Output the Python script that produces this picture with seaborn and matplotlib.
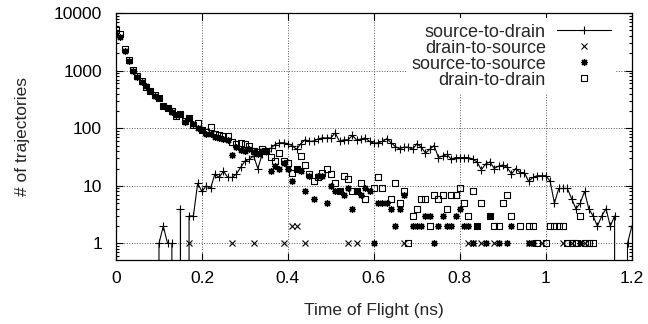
import numpy as np
import pandas as pd
import seaborn as sns
import matplotlib.pyplot as plt
from matplotlib.path import Path

# time bins every 0.01 ns, 0 .. 1.2 ns
time_ns = np.round(np.arange(121) * 0.01, 2)

# counts per bin (0 = no trajectory in that bin)
source_to_drain = [
    0, 0, 0, 0, 0, 0, 0, 0, 0, 0,
    1, 2, 1, 1, 0, 4, 0, 3, 3, 11,
    8, 10, 9, 16, 14, 18, 14, 14, 16, 21,
    27, 29, 33, 20, 35, 40, 45, 52, 56, 56,
    54, 50, 43, 54, 63, 59, 60, 65, 68, 68,
    68, 83, 59, 63, 63, 75, 62, 65, 68, 59,
    55, 56, 59, 66, 56, 48, 44, 47, 47, 43,
    54, 47, 37, 43, 50, 31, 33, 35, 29, 31,
    31, 31, 31, 29, 26, 19, 24, 26, 20, 22,
    23, 21, 16, 20, 17, 17, 12, 14, 15, 15,
    15, 12, 5, 9, 9, 9, 6, 4, 5, 8,
    4, 3, 2, 3, 4, 2, 3, 0, 0, 1,
    2]

drain_to_source = [
    0, 0, 0, 0, 0, 0, 0, 0, 0, 0,
    0, 0, 0, 0, 0, 0, 0, 1, 0, 0,
    0, 0, 0, 0, 0, 0, 0, 1, 0, 0,
    0, 0, 1, 0, 0, 0, 0, 0, 0, 1,
    0, 2, 2, 0, 1, 0, 0, 0, 0, 0,
    0, 0, 0, 0, 1, 0, 1, 0, 0, 0,
    0, 0, 0, 0, 0, 0, 0, 1, 0, 0,
    0, 0, 0, 0, 0, 0, 0, 0, 0, 0,
    0, 0, 1, 1, 0, 1, 0, 0, 1, 0,
    0, 0, 0, 0, 0, 0, 1, 0, 0, 1,
    0, 0, 0, 0, 1, 0, 1, 0, 0, 1,
    0, 0, 0, 0, 0, 0, 0, 0, 0, 0,
    0]

source_to_source = [
    4200, 3900, 2200, 1450, 1000, 780, 640, 530, 440, 360,
    340, 240, 220, 195, 170, 180, 130, 148, 118, 100,
    92, 80, 78, 70, 68, 66, 62, 34, 48, 42,
    40, 44, 38, 36, 40, 40, 18, 22, 20, 25,
    20, 12, 20, 18, 8, 15, 6, 15, 15, 5,
    10, 8, 8, 7, 9, 4, 8, 7, 9, 8,
    1, 5, 5, 5, 4, 2, 4, 7, 0, 2,
    2, 2, 3, 3, 1, 2, 3, 2, 2, 3,
    4, 2, 2, 1, 2, 0, 1, 3, 0, 1,
    0, 1, 2, 0, 0, 0, 1, 1, 0, 0,
    0, 0, 0, 0, 0, 0, 0, 0, 1, 0,
    0, 0, 0, 0, 0, 0, 0, 0, 0, 0,
    0]

drain_to_drain = [
    5000, 4300, 2400, 1500, 1020, 800, 660, 525, 440, 370,
    338, 245, 225, 200, 166, 175, 135, 150, 116, 124,
    95, 85, 103, 80, 76, 72, 74, 58, 54, 55,
    54, 50, 40, 38, 43, 40, 32, 27, 37, 27,
    25, 17, 20, 33, 23, 16, 12, 14, 17, 20,
    16, 11, 8, 15, 13, 8, 8, 11, 6, 0,
    9, 14, 9, 0, 6, 11, 5, 8, 1, 3,
    4, 6, 6, 2, 7, 6, 7, 4, 7, 7,
    9, 5, 3, 8, 2, 5, 0, 3, 2, 2,
    5, 7, 3, 0, 2, 0, 2, 2, 1, 0,
    1, 2, 2, 2, 2, 1, 1, 1, 3, 1,
    1, 1, 0, 0, 0, 0, 0, 0, 0, 0,
    0]

series_names = ["source-to-drain", "drain-to-source", "source-to-source", "drain-to-drain"]
x_ticks = [0, 0.2, 0.4, 0.6, 0.8, 1.0, 1.2]
x_tick_labels = ["0", "0.2", "0.4", "0.6", "0.8", "1", "1.2"]
y_ticks = [1, 10, 100, 1000, 10000]
y_tick_labels = ["1", "10", "100", "1000", "10000"]

df = pd.concat([
    pd.DataFrame({"time": time_ns, "count": vals, "series": name})
    for name, vals in zip(series_names,
                          [source_to_drain, drain_to_source, source_to_source, drain_to_drain])
])

sns.set_theme(style="ticks")
plt.rcParams["font.family"] = ["Liberation Sans", "DejaVu Sans"]
plt.rcParams["font.size"] = 12.5

# gnuplot-like box with a dot in the middle
box_dot = Path(
    [(-1, -1), (1, -1), (1, 1), (-1, 1), (-1, -1),
     (-0.1, -0.1), (0.1, -0.1), (0.1, 0.1), (-0.1, 0.1), (-0.1, -0.1)],
    [Path.MOVETO, Path.LINETO, Path.LINETO, Path.LINETO, Path.CLOSEPOLY] * 2,
)

fig = plt.figure(figsize=(6.48, 3.24), dpi=100)
ax = fig.add_axes([0.179, 0.198, 0.796, 0.762])

sub = df[df["series"] == "source-to-drain"]
sns.lineplot(data=sub, x="time", y="count", ax=ax, estimator=None, color="black",
             lw=0.8, marker="+", ms=5.5, mew=0.8, mec="black", label="source-to-drain")

styles = {
    "drain-to-source": dict(marker="x", ms=4, mew=0.8),
    "source-to-source": dict(marker=(8, 2, 0), ms=5, mew=0.9),
    "drain-to-drain": dict(marker=box_dot, ms=5, mew=0.8, mfc="none"),
}
for name, st in styles.items():
    sub = df[(df["series"] == name) & (df["count"] > 0)]
    sns.lineplot(data=sub, x="time", y="count", ax=ax, estimator=None, color="black",
                 linestyle="", mec="black", label=name, **st)

ax.set_yscale("log")
ax.set_xlim(0, 1.2)
ax.set_ylim(0.52, 10000)
ax.set_xticks(x_ticks)
ax.set_xticklabels(x_tick_labels)
ax.set_yticks(y_ticks)
ax.set_yticklabels(y_tick_labels)
ax.yaxis.set_minor_formatter(plt.NullFormatter())

ax.tick_params(which="both", direction="in", top=True, right=True, colors="black",
               labelsize=12.5, width=0.8)
ax.tick_params(which="major", length=5)
ax.tick_params(which="minor", length=2.5)
ax.tick_params(axis="x", pad=8)
ax.tick_params(axis="y", pad=10)
for sp in ax.spines.values():
    sp.set_color("black")
    sp.set_linewidth(0.9)

ax.grid(True, which="major", ls=":", color="0.35", lw=0.7)
ax.set_xlabel("Time of Flight (ns)", fontsize=12.5, labelpad=12)
ax.set_ylabel("# of trajectories", fontsize=12.5, labelpad=17)

leg = ax.legend(loc="upper right", bbox_to_anchor=(1 - 10 / 516, 1), markerfirst=False,
                frameon=True, fancybox=False, facecolor="white", edgecolor="none",
                framealpha=1, handlelength=3.0, labelspacing=-0.06, fontsize=13,
                borderaxespad=0.3, borderpad=0.3, handletextpad=0.6)

fig.savefig("out.png", dpi=100)
